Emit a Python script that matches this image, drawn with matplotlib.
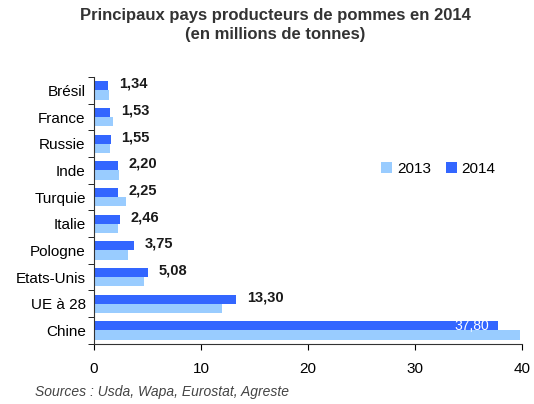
import numpy as np
import matplotlib.pyplot as plt

plt.rcParams['font.family'] = ['Liberation Sans', 'DejaVu Sans']

pays = ["Brésil", "France", "Russie", "Inde", "Turquie", "Italie",
        "Pologne", "Etats-Unis", "UE à 28", "Chine"]
prod_2014 = [1.34, 1.53, 1.55, 2.20, 2.25, 2.46, 3.75, 5.08, 13.30, 37.80]
prod_2013 = [1.4, 1.75, 1.5, 2.3, 3.0, 2.2, 3.2, 4.7, 12.0, 39.8]
etiquettes = ["1,34", "1,53", "1,55", "2,20", "2,25", "2,46", "3,75", "5,08", "13,30", "37,80"]

bleu_fonce = "#3366FF"
bleu_clair = "#99CCFF"

fig = plt.figure(figsize=(5.34, 4.04), dpi=100)
ax = fig.add_axes([0.176, 0.149, 0.801, 0.66])

y = np.arange(len(pays))
h = 0.34
b14 = ax.barh(y - h / 2, prod_2014, height=h, color=bleu_fonce, label="2014")
b13 = ax.barh(y + h / 2, prod_2013, height=h, color=bleu_clair, label="2013")

for i, (v, t) in enumerate(zip(prod_2014, etiquettes)):
    if v > 30:
        ax.text(v - 0.8, y[i] - h / 2, t, ha="right", va="center",
                color="white", fontsize=10)
    else:
        ax.text(v + 1.0, y[i] - h / 2 - 0.08, t, ha="left", va="center",
                fontsize=10.5, fontweight="bold", color="#1a1a1a")

ax.set_ylim(len(pays) - 0.5, -0.5)
ax.set_xlim(0, 40)
ax.set_xticks([0, 10, 20, 30, 40])
ax.set_yticks(y)
ax.set_yticklabels(pays)
ax.set_yticks(np.arange(len(pays) + 1) - 0.5, minor=True)
ax.tick_params(axis="y", which="major", length=0, labelsize=11, pad=6)
ax.tick_params(axis="y", which="minor", length=4, direction="out")
ax.tick_params(axis="x", length=4, direction="out", labelsize=11, pad=9)

for s in ["top", "right"]:
    ax.spines[s].set_visible(False)
ax.spines["left"].set_color("#333333")
ax.spines["bottom"].set_color("#333333")

ax.legend([b13, b14], ["2013", "2014"], loc="upper left",
          bbox_to_anchor=(0.64, 0.735), ncol=2, frameon=False,
          handlelength=0.7, handleheight=0.7, handletextpad=0.3,
          columnspacing=1.0, fontsize=11)

fig.text(0.515, 0.98, "Principaux pays producteurs de pommes en 2014\n(en millions de tonnes)",
         ha="center", va="top", fontsize=12, fontweight="bold",
         color="#333333", linespacing=1.3)
fig.text(0.065, 0.012, "Sources : Usda, Wapa, Eurostat, Agreste",
         ha="left", va="bottom", fontsize=10, style="italic", color="#444444")

fig.savefig("out.png", dpi=100)
